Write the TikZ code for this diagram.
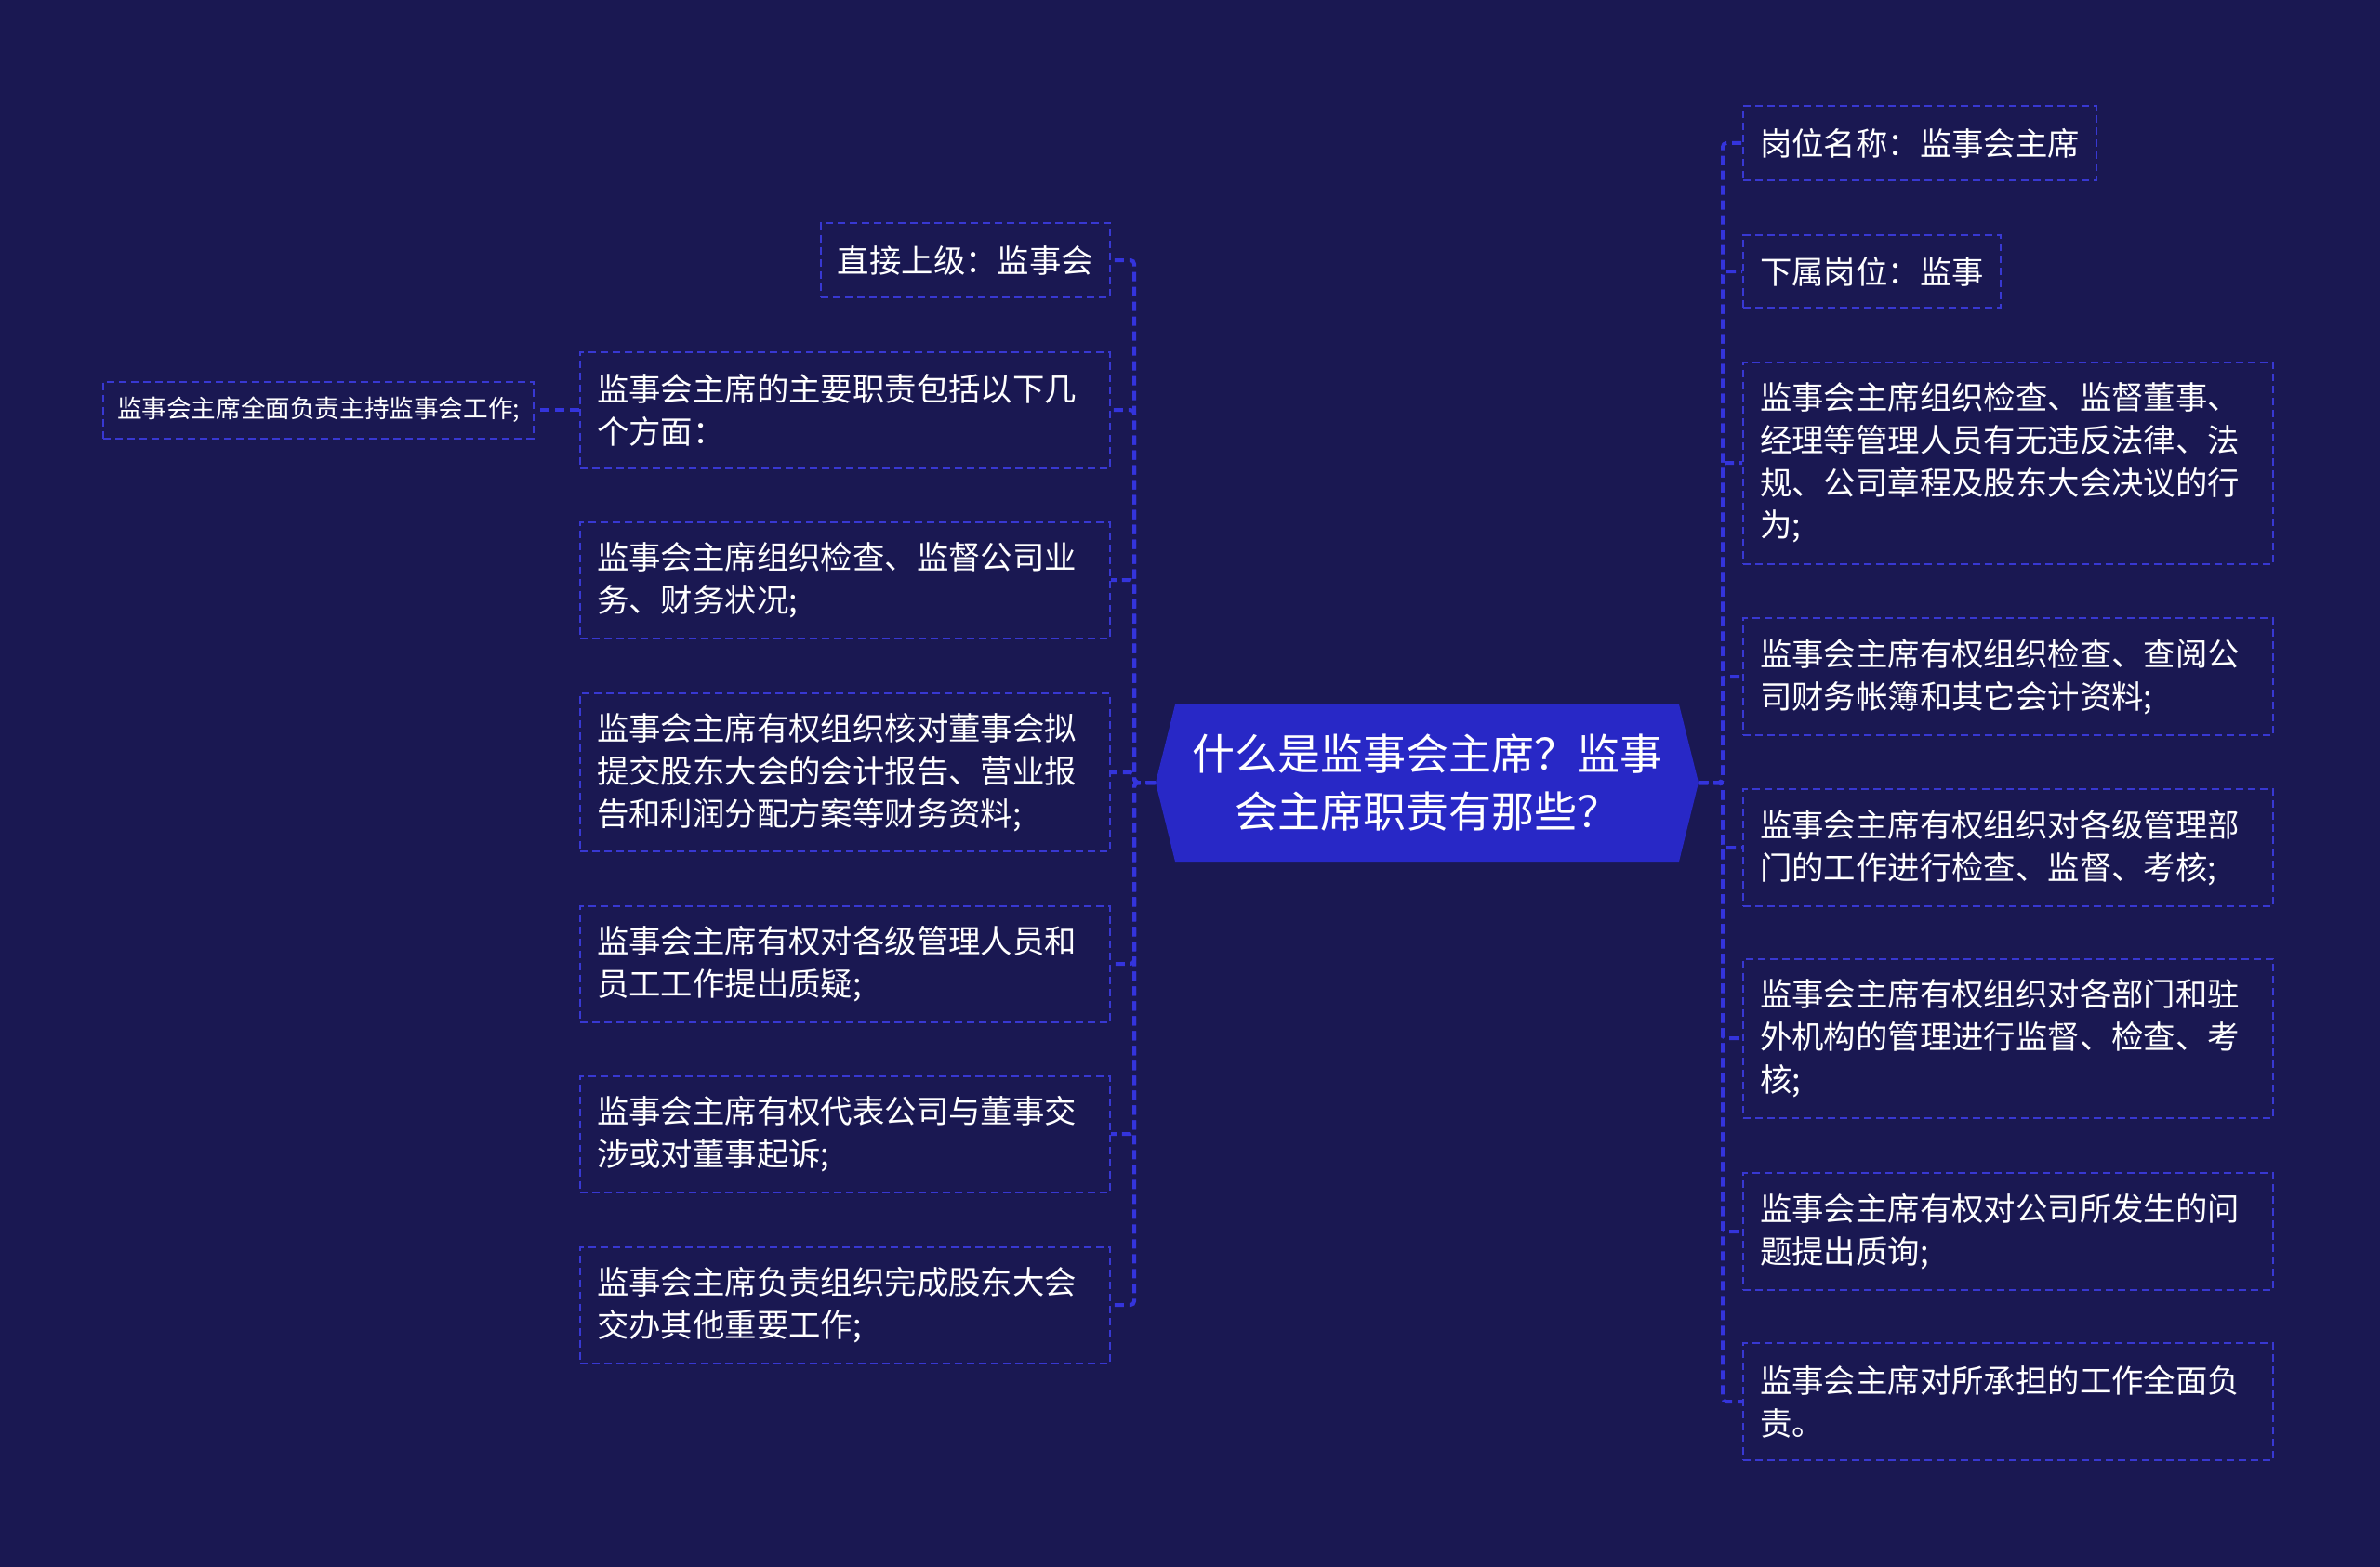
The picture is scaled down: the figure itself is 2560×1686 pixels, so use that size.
\documentclass[tikz,border=0pt]{standalone}
\usepackage{fontspec}
\setmainfont{Noto Sans CJK SC}
\definecolor{bgc}{HTML}{1A1852}
\definecolor{boxc}{HTML}{3838D2}
\definecolor{connc}{HTML}{3434DC}
\definecolor{centerc}{HTML}{2828C6}
\begin{document}
\begin{tikzpicture}[x=0.5pt,y=-0.5pt,
  leaf/.style={draw=boxc, line width=1pt, dash pattern=on 4pt off 2.5pt, text=white,
    font=\fontsize{17.2pt}{22.85pt}\selectfont, align=left, inner xsep=9pt, inner ysep=4pt},
  wide/.style={text width=267pt},
  small/.style={draw=boxc, line width=1pt, dash pattern=on 4pt off 2.5pt, text=white,
    font=\fontsize{13.3pt}{17pt}\selectfont, align=left, inner xsep=7.5pt, inner ysep=4pt, minimum height=30.5pt},
  conn/.style={draw=connc, line width=2pt, dash pattern=on 5pt off 3pt, rounded corners=2pt}]
\fill[bgc] (0,0) rectangle (2560,1686);
\useasboundingbox (0,0) rectangle (2560,1686);

% center
\fill[centerc] (1264,758) -- (1806,758) -- (1827,842) -- (1806,927) -- (1264,927) -- (1243,842) -- cycle;
\node (c) at (1535,842) [minimum width=292pt, minimum height=84.5pt, text=white, align=center,
  font=\fontsize{23pt}{31pt}\selectfont] {什么是监事会主席？监事\\会主席职责有那些？};

% left children
\node[leaf, anchor=east, minimum height=40pt] (l1) at (1195,280) {直接上级：监事会};
\node[leaf, wide, anchor=east, minimum height=62.5pt] (l2) at (1195,441) {监事会主席的主要职责包括以下几\\个方面：};
\node[leaf, wide, anchor=east, minimum height=62.5pt] (l3) at (1195,624) {监事会主席组织检查、监督公司业\\务、财务状况;};
\node[leaf, wide, anchor=east, minimum height=85pt] (l4) at (1195,831) {监事会主席有权组织核对董事会拟\\提交股东大会的会计报告、营业报\\告和利润分配方案等财务资料;};
\node[leaf, wide, anchor=east, minimum height=62.5pt] (l5) at (1195,1037) {监事会主席有权对各级管理人员和\\员工工作提出质疑;};
\node[leaf, wide, anchor=east, minimum height=62.5pt] (l6) at (1195,1220) {监事会主席有权代表公司与董事交\\涉或对董事起诉;};
\node[leaf, wide, anchor=east, minimum height=62.5pt] (l7) at (1195,1404) {监事会主席负责组织完成股东大会\\交办其他重要工作;};

\node[small, anchor=east] (fl) at (575,441) {监事会主席全面负责主持监事会工作;};

% right children
\node[leaf, anchor=west, minimum height=40pt] (r1) at (1874,154) {岗位名称：监事会主席};
\node[leaf, anchor=west, minimum height=39pt] (r2) at (1874,292) {下属岗位：监事};
\node[leaf, wide, anchor=west, minimum height=108.5pt] (r3) at (1874,498) {监事会主席组织检查、监督董事、\\经理等管理人员有无违反法律、法\\规、公司章程及股东大会决议的行\\为;};
\node[leaf, wide, anchor=west, minimum height=63pt] (r4) at (1874,728) {监事会主席有权组织检查、查阅公\\司财务帐簿和其它会计资料;};
\node[leaf, wide, anchor=west, minimum height=63pt] (r5) at (1874,912) {监事会主席有权组织对各级管理部\\门的工作进行检查、监督、考核;};
\node[leaf, wide, anchor=west, minimum height=85.5pt] (r6) at (1874,1117) {监事会主席有权组织对各部门和驻\\外机构的管理进行监督、检查、考\\核;};
\node[leaf, wide, anchor=west, minimum height=63pt] (r7) at (1874,1325) {监事会主席有权对公司所发生的问\\题提出质询;};
\node[leaf, wide, anchor=west, minimum height=63pt] (r8) at (1874,1508) {监事会主席对所承担的工作全面负\\责。};

% buses
\coordinate (lb) at (1220,842);
\coordinate (rb) at (1853,842);

\foreach \n in {l1,l2,l3,l4,l5,l6,l7}
  \draw[conn] (c.west) -- (lb) |- (\n.east);
\foreach \n in {r1,r2,r3,r4,r5,r6,r7,r8}
  \draw[conn] (c.east) -- (rb) |- (\n.west);
\draw[conn] (l2.west) -- (fl.east);
\end{tikzpicture}
\end{document}
